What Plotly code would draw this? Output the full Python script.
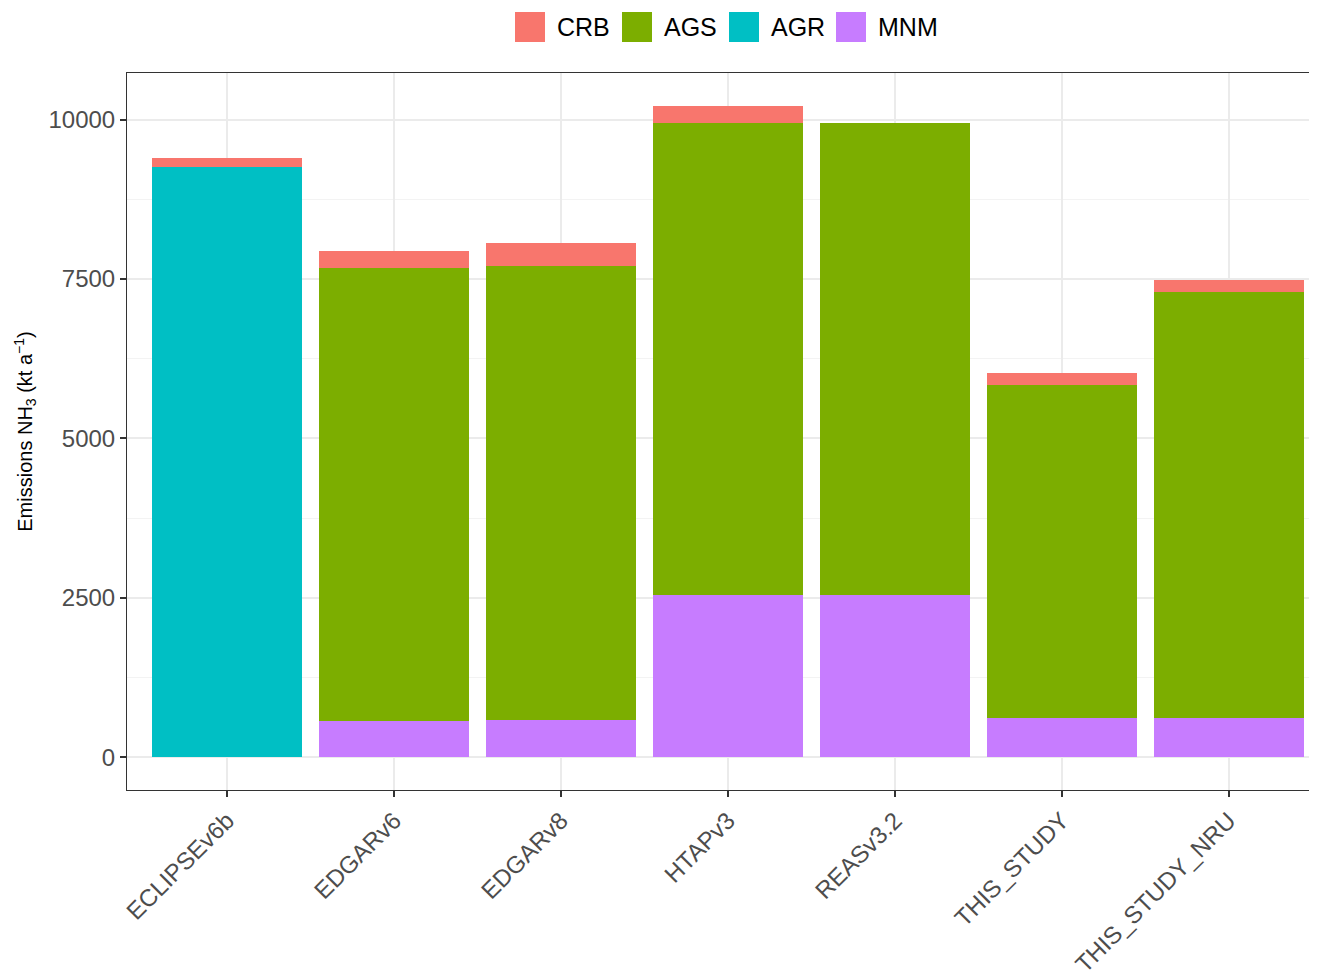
import plotly.graph_objects as go

categories = ["ECLIPSEv6b", "EDGARv6", "EDGARv8", "HTAPv3", "REASv3.2", "THIS_STUDY", "THIS_STUDY_NRU"]
MNM = [None, 570, 580, 2540, 2540, 615, 615]
AGR = [9255, None, None, None, None, None, None]
AGS = [None, 7103, 7120, 7402, 7402, 5218, 6678]
CRB = [146, 261, 359, 272, None, 187, 187]
y_ticks = [0, 2500, 5000, 7500, 10000]

series = [("MNM", MNM, "#C77CFF"), ("AGR", AGR, "#00BFC4"),
          ("AGS", AGS, "#7CAE00"), ("CRB", CRB, "#F8766D")]

# page body has an 8px margin; the reference's panel runs slightly past the right edge
OFF = 8
ML, MR, MT, MB = 127 - OFF, 0, 73 - OFF, 973 - 790
PW = 1202
W, H = ML + PW + MR, 973 - OFF
PH = H - MT - MB

def px_x(px):
    return (px - OFF - ML) / PW

def px_y(py):
    return 1 - (py - OFF - MT) / PH

fig = go.Figure()
for name, vals, col in series:
    fig.add_trace(go.Bar(x=categories, y=vals, name=name, width=0.9, showlegend=False,
                         marker=dict(color=col, line=dict(width=0))))

# custom legend (keys sized like the reference)
legend_order = ["CRB", "AGS", "AGR", "MNM"]
colors = {n: c for n, _, c in series}
key_left = [515, 622, 729, 836]
key_size = 30
key_top = 12
shapes = []
annotations = []
for name, kx in zip(legend_order, key_left):
    shapes.append(dict(type="rect", xref="paper", yref="paper",
                       x0=px_x(kx), x1=px_x(kx + key_size),
                       y0=px_y(key_top + key_size), y1=px_y(key_top),
                       fillcolor=colors[name], line=dict(width=0)))
    annotations.append(dict(xref="paper", yref="paper", x=px_x(kx + key_size + 10),
                            y=px_y(key_top + key_size / 2), text=name, showarrow=False,
                            xanchor="left", yanchor="middle",
                            font=dict(size=25, color="black")))

tick_font = dict(family="Liberation Sans, Arial, sans-serif", size=24, color="#4D4D4D")
fig.update_layout(
    barmode="stack",
    width=W, height=H, autosize=False,
    margin=dict(l=ML, r=MR, t=MT, b=MB, autoexpand=False),
    plot_bgcolor="white", paper_bgcolor="white",
    font=dict(family="Liberation Sans, Arial, sans-serif", color="black"),
    showlegend=False,
    shapes=shapes, annotations=annotations,
)
fig.update_xaxes(
    range=[-0.6, 6.6], tickangle=-45, tickfont=tick_font, automargin=False,
    showgrid=True, gridcolor="#EBEBEB", gridwidth=2,
    showline=True, linecolor="#333333", linewidth=1, mirror=True,
    ticks="outside", ticklen=6, tickcolor="#333333", tickwidth=1.5,
)
fig.update_yaxes(
    range=[-511, 10730], tickvals=y_ticks, ticktext=[str(v) for v in y_ticks], tickfont=tick_font,
    automargin=False,
    showgrid=True, gridcolor="#EBEBEB", gridwidth=2, zeroline=False,
    minor=dict(tickvals=[1250, 3750, 6250, 8750], showgrid=True, gridcolor="#F3F3F3", gridwidth=1, ticks=""),
    showline=True, linecolor="#333333", linewidth=1, mirror=True,
    ticks="outside", ticklen=6, tickcolor="#333333", tickwidth=1.5,
    title=dict(text="Emissions NH<sub>3</sub> (kt a<sup>−1</sup>)", font=dict(size=20, color="black"), standoff=10),
)
fig.write_html("out.html")
